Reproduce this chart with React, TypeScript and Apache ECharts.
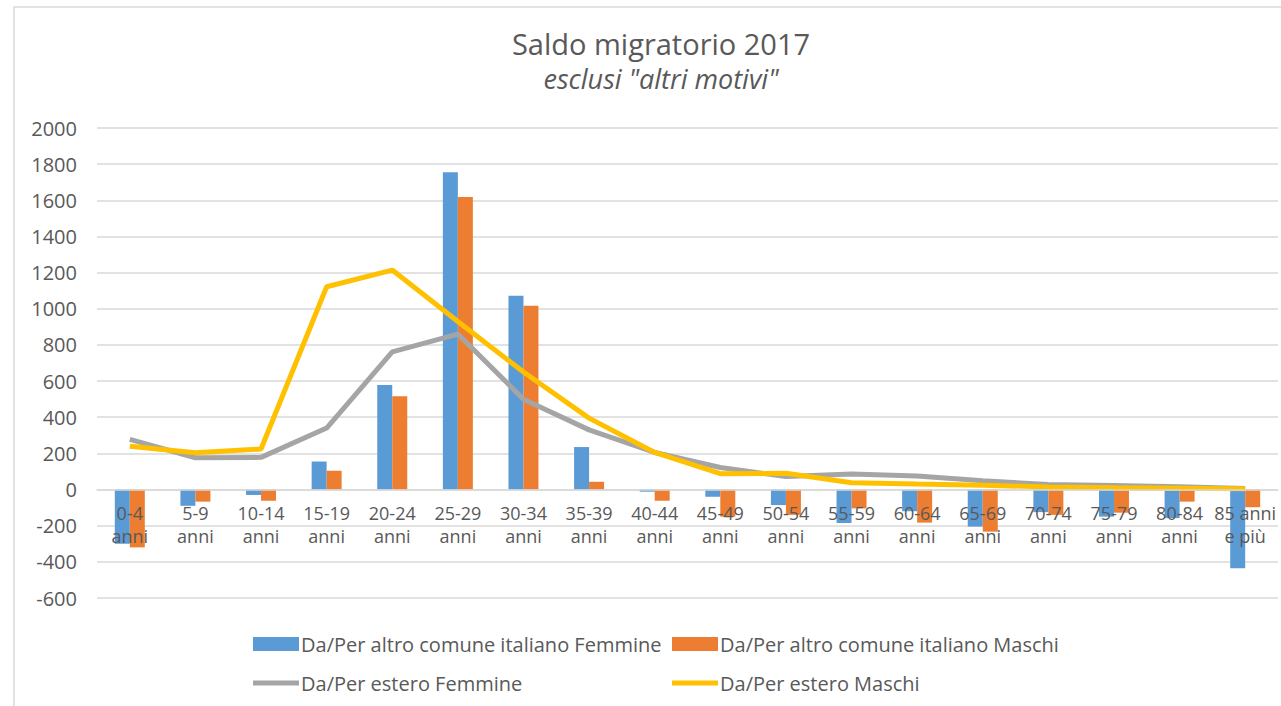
import React, { useEffect, useRef } from "react";
import * as echarts from "echarts";

const categories = [
  "0-4\nanni", "5-9\nanni", "10-14\nanni", "15-19\nanni", "20-24\nanni", "25-29\nanni",
  "30-34\nanni", "35-39\nanni", "40-44\nanni", "45-49\nanni", "50-54\nanni", "55-59\nanni",
  "60-64\nanni", "65-69\nanni", "70-74\nanni", "75-79\nanni", "80-84\nanni", "85 anni\ne più",
];
const comuneFemmine = [-300, -90, -30, 155, 578, 1755, 1072, 235, -12, -40, -86, -185, -120, -205, -125, -150, -158, -435];
const comuneMaschi = [-320, -67, -62, 104, 516, 1618, 1017, 43, -62, -150, -140, -104, -183, -233, -140, -128, -67, -98];
const esteroFemmine = [278, 176, 178, 340, 762, 860, 500, 330, 205, 122, 72, 86, 75, 48, 28, 22, 15, 6];
const esteroMaschi = [240, 204, 224, 1122, 1214, 930, 650, 395, 205, 88, 90, 38, 30, 24, 14, 10, 7, 4];

const seriesNames = [
  "Da/Per altro comune italiano Femmine",
  "Da/Per altro comune italiano Maschi",
  "Da/Per estero Femmine",
  "Da/Per estero Maschi",
];
const FONT = "'Open Sans', 'Noto Sans', sans-serif";
const TXT = "#595959";
const GRID = "#d9d9d9";
const LINE_ICON = "path://M0,0 L46,0 L46,5 L0,5 Z";

const legendCommon = {
  orient: "vertical",
  top: 629,
  itemWidth: 46,
  itemHeight: 14,
  itemGap: 19,
  textStyle: { fontFamily: FONT, fontSize: 20, color: TXT, padding: [0, 0, 0, -3] },
};

export default function App() {
  const ref = useRef<HTMLDivElement>(null);
  useEffect(() => {
    if (!ref.current) return;
    const chart = echarts.init(ref.current, null, { renderer: "svg" });
    chart.setOption({
      animation: false,
      backgroundColor: "#ffffff",
      textStyle: { fontFamily: FONT },
      title: {
        text: "Saldo migratorio 2017",
        subtext: 'esclusi "altri motivi"',
        left: 656,
        top: 24,
        textAlign: "center",
        itemGap: 7,
        textStyle: { fontFamily: FONT, fontSize: 29, fontWeight: "normal", color: TXT },
        subtextStyle: { fontFamily: FONT, fontSize: 27, fontStyle: "italic", color: TXT },
      },
      graphic: [
        {
          type: "rect",
          shape: { x: 14, y: 7, width: 1300, height: 720 },
          style: { fill: "none", stroke: GRID, lineWidth: 1.5 },
          silent: true,
        },
      ],
      legend: [
        {
          ...legendCommon,
          left: 248,
          data: [
            { name: seriesNames[0], icon: "rect" },
            { name: seriesNames[2], icon: LINE_ICON },
          ],
        },
        {
          ...legendCommon,
          left: 667,
          data: [
            { name: seriesNames[1], icon: "rect" },
            { name: seriesNames[3], icon: LINE_ICON },
          ],
        },
      ],
      grid: { left: 97, right: 3, top: 128, bottom: 108 },
      xAxis: {
        type: "category",
        data: categories,
        z: 10,
        position: "bottom",
        offset: -108.46,
        axisLine: { onZero: false, lineStyle: { color: GRID, width: 1.5 } },
        axisTick: { show: false },
        axisLabel: {
          interval: 0,
          margin: 12,
          fontFamily: FONT,
          fontSize: 18,
          lineHeight: 23,
          color: TXT,
        },
      },
      yAxis: {
        type: "value",
        min: -600,
        max: 2000,
        interval: 200,
        axisLine: { show: false },
        axisTick: { show: false },
        axisLabel: {
          fontFamily: FONT,
          fontSize: 20,
          color: TXT,
          margin: 20,
          formatter: (v: number) => String(v),
        },
        splitLine: { lineStyle: { color: GRID, width: 1.5 } },
      },
      series: [
        {
          name: seriesNames[0],
          type: "bar",
          data: comuneFemmine,
          barWidth: 15,
          barGap: "0%",
          itemStyle: { color: "#5b9bd5" },
        },
        {
          name: seriesNames[1],
          type: "bar",
          data: comuneMaschi,
          barWidth: 15,
          barGap: "0%",
          itemStyle: { color: "#ed7d31" },
        },
        {
          name: seriesNames[2],
          type: "line",
          data: esteroFemmine,
          symbol: "none",
          lineStyle: { color: "#a5a5a5", width: 5 },
          itemStyle: { color: "#a5a5a5" },
          z: 3,
        },
        {
          name: seriesNames[3],
          type: "line",
          data: esteroMaschi,
          symbol: "none",
          lineStyle: { color: "#ffc000", width: 5 },
          itemStyle: { color: "#ffc000" },
          z: 4,
        },
      ],
    });
    return () => chart.dispose();
  }, []);
  return (
    <div
      ref={ref}
      style={{ position: "fixed", left: 0, top: 0, width: 1281, height: 706 }}
    />
  );
}
